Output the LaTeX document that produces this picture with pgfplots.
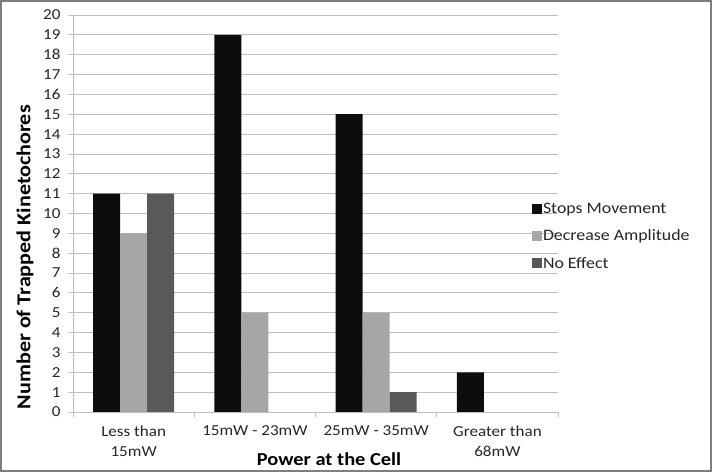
\documentclass[border=0pt]{standalone}
\usepackage{pgfplots}
\pgfplotsset{compat=1.18}
\usepackage{fontspec}
\setmainfont[FakeStretch=1.12]{Carlito}
\definecolor{sblack}{HTML}{0D0D0D}
\definecolor{slight}{HTML}{A6A6A6}
\definecolor{sdark}{HTML}{595959}
\definecolor{gridc}{HTML}{BFBFBF}
\definecolor{framec}{HTML}{7F7F7F}
\begin{document}
\begin{tikzpicture}
\begin{axis}[
  at={(0,0)}, anchor=south west,
  scale only axis, width=485bp, height=397bp,
  ymin=0, ymax=20, ytick={0,1,...,20},
  xmin=-0.5, xmax=3.5,
  xtick={0,1,2,3},
  xticklabels={{Less than\\15mW},{15mW - 23mW},{25mW - 35mW},{Greater than\\68mW}},
  minor xtick={-0.5,0.5,1.5,2.5,3.5},
  axis x line*=bottom, axis y line*=left,
  x axis line style={gridc,-}, y axis line style={gridc,-},
  major x tick style={draw=none},
  minor tick length=5bp, major tick length=5bp,
  tick align=outside, tick style={gridc, line width=0.8bp},
  ymajorgrids, grid style={gridc, line width=0.8bp},
  /pgf/number format/assume math mode=true,
  ticklabel style={font=\fontsize{15.3}{20.5}\selectfont, text=black!85},
  xticklabel style={align=center, yshift=-5bp},
  yticklabel style={xshift=-4bp},
  ybar=0pt, bar width=27bp,
  xlabel={\textbf{Power at the Cell}},
  xlabel style={at={(rel axis cs:0.528,-0.119)}, anchor=center, font=\fontsize{18.3}{22}\selectfont},
  ylabel={\textbf{Number of Trapped Kinetochores}},
  ylabel style={at={(rel axis cs:-0.099,0.39)}, anchor=center, font=\fontsize{19.8}{22}\selectfont},
  legend style={at={(rel axis cs:0.946,0.443)}, anchor=west, draw=none, fill=none,
    font=\fontsize{16}{19}\selectfont, row sep=13bp, inner sep=0pt,
    nodes={inner sep=1bp, text=black!85},
    /tikz/every even column/.append style={column sep=2bp}},
  legend cell align=left,
  legend image code/.code={\fill[#1] (0bp,-5bp) rectangle (10bp,5bp);},
]
\addplot[fill=sblack, draw=none] coordinates {(0,11) (1,19) (2,15) (3,2)};
\addplot[fill=slight, draw=none] coordinates {(0,9) (1,5) (2,5) (3,0)};
\addplot[fill=sdark, draw=none] coordinates {(0,11) (1,0) (2,1) (3,0)};
\legend{Stops Movement, Decrease Amplitude, No Effect}
\end{axis}
\draw[framec, line width=2.5bp] (-71.75bp,-58.75bp) rectangle (637.75bp,410.75bp);
\useasboundingbox (-73bp,-60bp) rectangle (639bp,412bp);
\end{tikzpicture}
\end{document}
